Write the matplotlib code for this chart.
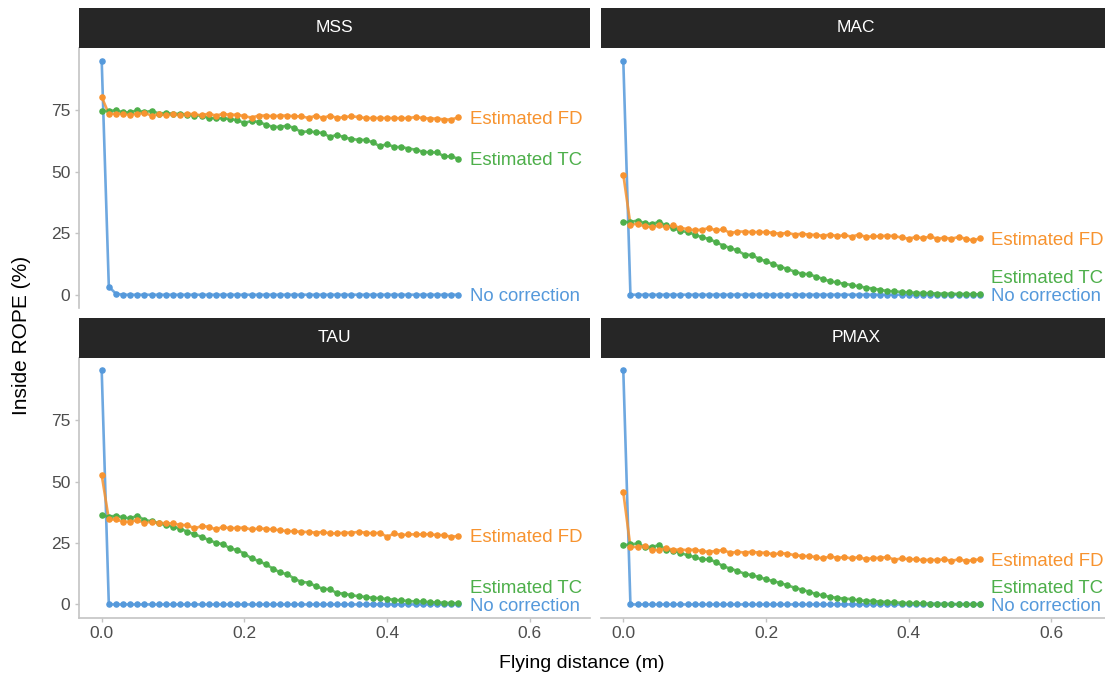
import matplotlib
matplotlib.use("Agg")
import matplotlib.pyplot as plt
import numpy as np

plt.rcParams["font.family"] = ["Liberation Sans", "DejaVu Sans"]

# Flying distance grid (m)
distance = np.round(np.linspace(0.0, 0.5, 51), 2)

panels = ["MSS", "MAC", "TAU", "PMAX"]
series_names = ["No correction", "Estimated TC", "Estimated FD"]

# --- MSS ---
nocorr_mss = [95.3, 3.3, 0.4] + [0.0] * 48
tc_mss = [74.9, 74.7, 75.1, 74.2, 74.2, 75.1, 74.2, 74.9, 73.7, 74.0,
          73.6, 73.6, 73.3, 72.9, 72.9, 71.9, 71.8, 71.8, 71.5, 71.0,
          69.9, 70.7, 70.3, 69.2, 68.3, 68.3, 68.8, 67.8, 66.2, 66.5,
          66.1, 65.8, 64.2, 65.1, 64.0, 63.4, 63.0, 63.0, 62.0, 60.4,
          61.3, 60.1, 60.1, 59.5, 59.0, 58.2, 57.9, 57.9, 56.3, 56.3, 55.3]
fd_mss = [80.5, 73.6, 73.7, 73.6, 73.3, 73.7, 74.0, 72.9, 73.4, 73.2,
          73.6, 73.2, 73.7, 73.4, 73.0, 73.7, 72.9, 73.6, 73.2, 73.3,
          72.6, 72.1, 72.9, 72.9, 72.6, 72.9, 72.9, 72.6, 72.6, 71.9,
          72.9, 71.9, 72.9, 71.9, 72.3, 72.6, 72.3, 71.9, 71.9, 71.9,
          71.9, 71.9, 71.8, 71.9, 72.3, 71.9, 71.7, 71.7, 71.3, 71.3, 72.2]

# --- MAC ---
nocorr_mac = [95.3] + [0.0] * 50
tc_mac = [29.6, 29.6, 30.2, 29.1, 28.8, 29.6, 28.2, 27.1, 26.0, 25.5,
          24.5, 23.4, 22.7, 21.4, 20.0, 19.0, 18.0, 16.3, 16.2, 14.6,
          13.6, 12.5, 11.4, 10.5, 9.4, 8.6, 8.3, 7.4, 6.4, 5.4,
          5.0, 4.4, 4.0, 3.4, 2.9, 2.5, 2.0, 1.5, 1.4, 1.1,
          0.95, 0.8, 0.7, 0.6, 0.5, 0.4, 0.4, 0.3, 0.3, 0.2, 0.1]
fd_mac = [48.9, 28.5, 28.9, 27.8, 27.5, 28.2, 27.5, 28.2, 27.1, 26.8,
          26.2, 26.5, 27.1, 26.2, 26.6, 25.1, 25.7, 25.7, 25.5, 25.5,
          25.5, 25.2, 24.8, 25.2, 24.5, 24.8, 24.5, 24.3, 24.0, 24.5,
          23.8, 24.3, 23.6, 24.5, 23.5, 23.8, 23.8, 24.1, 23.8, 23.3,
          22.8, 23.5, 23.0, 23.7, 22.8, 23.2, 22.8, 23.5, 22.8, 22.1, 23.0]

# --- TAU ---
nocorr_tau = [95.3] + [0.0] * 50
tc_tau = [36.4, 35.7, 36.1, 35.4, 35.0, 36.1, 34.3, 33.9, 33.0, 32.3,
          31.6, 30.8, 29.6, 28.5, 27.5, 26.2, 25.1, 24.5, 22.8, 22.1,
          20.7, 18.7, 17.7, 16.3, 14.6, 13.0, 12.3, 10.5, 9.1, 8.9,
          7.4, 6.4, 6.1, 4.6, 4.4, 3.7, 3.4, 3.0, 2.7, 2.5,
          2.2, 1.9, 1.6, 1.4, 1.2, 1.2, 0.9, 0.8, 0.7, 0.5, 0.5]
fd_tau = [52.7, 34.6, 34.6, 33.7, 33.7, 34.3, 33.2, 33.7, 33.2, 33.0,
          33.0, 32.3, 32.3, 30.9, 31.9, 31.6, 30.5, 31.6, 30.9, 31.2,
          31.2, 30.5, 30.9, 30.8, 30.5, 30.2, 29.8, 29.8, 29.5, 29.5,
          29.2, 29.5, 28.9, 28.9, 29.2, 29.2, 29.5, 29.2, 28.9, 29.2,
          27.5, 28.9, 28.2, 28.5, 28.5, 28.5, 28.6, 28.2, 28.2, 27.5, 27.9]

# --- PMAX ---
nocorr_pmax = [95.3] + [0.0] * 50
tc_pmax = [24.1, 24.4, 24.8, 23.4, 23.4, 24.1, 22.3, 21.8, 21.0, 20.0,
           19.3, 18.3, 18.3, 17.3, 15.5, 14.6, 13.6, 12.5, 11.9, 11.2,
           10.2, 9.5, 8.7, 7.8, 6.8, 6.0, 5.2, 4.2, 3.7, 3.0,
           2.7, 2.3, 2.2, 1.6, 1.5, 1.4, 1.1, 1.0, 0.8, 0.7,
           0.5, 0.5, 0.4, 0.3, 0.3, 0.2, 0.2, 0.1, 0.1, 0.1, 0.1]
fd_pmax = [45.6, 23.4, 23.4, 23.7, 22.3, 22.1, 22.8, 22.3, 22.3, 22.1,
           22.3, 21.7, 21.4, 21.8, 22.1, 21.0, 21.4, 21.1, 21.4, 21.1,
           21.0, 20.4, 20.8, 20.7, 20.0, 19.8, 19.6, 19.3, 18.7, 19.6,
           18.9, 19.3, 18.7, 19.3, 18.4, 18.9, 18.9, 19.3, 18.2, 18.7,
           18.4, 18.4, 18.0, 18.2, 18.0, 18.4, 17.7, 18.4, 17.7, 18.0, 18.4]

data = {
    "MSS": [nocorr_mss, tc_mss, fd_mss],
    "MAC": [nocorr_mac, tc_mac, fd_mac],
    "TAU": [nocorr_tau, tc_tau, fd_tau],
    "PMAX": [nocorr_pmax, tc_pmax, fd_pmax],
}

colors = {"No correction": "#5599DB",
          "Estimated TC": "#4DAF4A",
          "Estimated FD": "#F7932F"}

x_ticks = [0.0, 0.2, 0.4, 0.6]
y_ticks = [0, 25, 50, 75]

W, H = 1105, 682
fig = plt.figure(figsize=(W / 100, H / 100), dpi=100)


def px_axes(left, top, width, height):
    return fig.add_axes([left / W, 1 - (top + height) / H, width / W, height / H])


panel_w, panel_h, strip_h = 511, 260, 40
lefts = [79, 600.6]
tops = [48, 357.7]
axis_grey = "#C4C4C4"
label_min_gap = 7.4


def spread_labels(values, gap):
    """Push end labels apart so they do not overlap."""
    order = np.argsort(values)
    pos = np.array(values, dtype=float)
    last = -np.inf
    for i in order:
        if pos[i] < last + gap:
            pos[i] = last + gap
        last = pos[i]
    return pos


for idx, name in enumerate(panels):
    r, c = divmod(idx, 2)
    ax = px_axes(lefts[c], tops[r], panel_w, panel_h)
    sax = px_axes(lefts[c], tops[r] - strip_h, panel_w, strip_h)
    sax.set_facecolor("#262626")
    sax.set_xticks([])
    sax.set_yticks([])
    for s in sax.spines.values():
        s.set_visible(False)
    sax.text(0.5, 0.5, name, color="white", fontsize=12.5,
             ha="center", va="center", transform=sax.transAxes)

    values = data[name]
    for sname, yv in zip(series_names, values):
        col = colors[sname]
        ax.plot(distance, yv, color=col, lw=1.9, alpha=0.85,
                solid_capstyle="round", zorder=2)
        ax.plot(distance, yv, linestyle="none", marker="o", ms=3.7,
                color=col, mec=col, zorder=3)

    ends = [v[-1] for v in values]
    label_y = spread_labels(ends, label_min_gap)
    for sname, ly in zip(series_names, label_y):
        ax.text(0.516, ly, sname, color=colors[sname], fontsize=13.4,
                ha="left", va="center_baseline", clip_on=False)

    ax.set_xlim(-0.0318, 0.6844)
    ax.set_ylim(-5.4, 100.4)
    ax.set_xticks(x_ticks)
    ax.set_xticklabels([f"{t:.1f}" for t in x_ticks])
    ax.set_yticks(y_ticks)
    ax.set_yticklabels([str(t) for t in y_ticks])
    for s in ["top", "right"]:
        ax.spines[s].set_visible(False)
    ax.spines["left"].set_color(axis_grey)
    ax.spines["bottom"].set_color(axis_grey)
    ax.spines["left"].set_linewidth(1.2)
    ax.spines["bottom"].set_linewidth(1.2)
    ax.tick_params(colors=axis_grey, labelcolor="#4D4D4D", labelsize=12.5,
                   length=3.2, width=1.0, pad=3)
    if c == 1:
        ax.spines["left"].set_visible(False)
        ax.tick_params(axis="y", left=False, labelleft=False)
    if r == 0:
        ax.spines["bottom"].set_visible(False)
        ax.tick_params(axis="x", bottom=False, labelbottom=False)

fig.text(582 / W, 1 - 664 / H, "Flying distance (m)", fontsize=14,
         ha="center", va="center", color="black")
fig.text(22 / W, 1 - 335 / H, "Inside ROPE (%)", fontsize=15, rotation=90,
         ha="center", va="center", color="black")

fig.savefig("out.png", dpi=100, facecolor="white")
